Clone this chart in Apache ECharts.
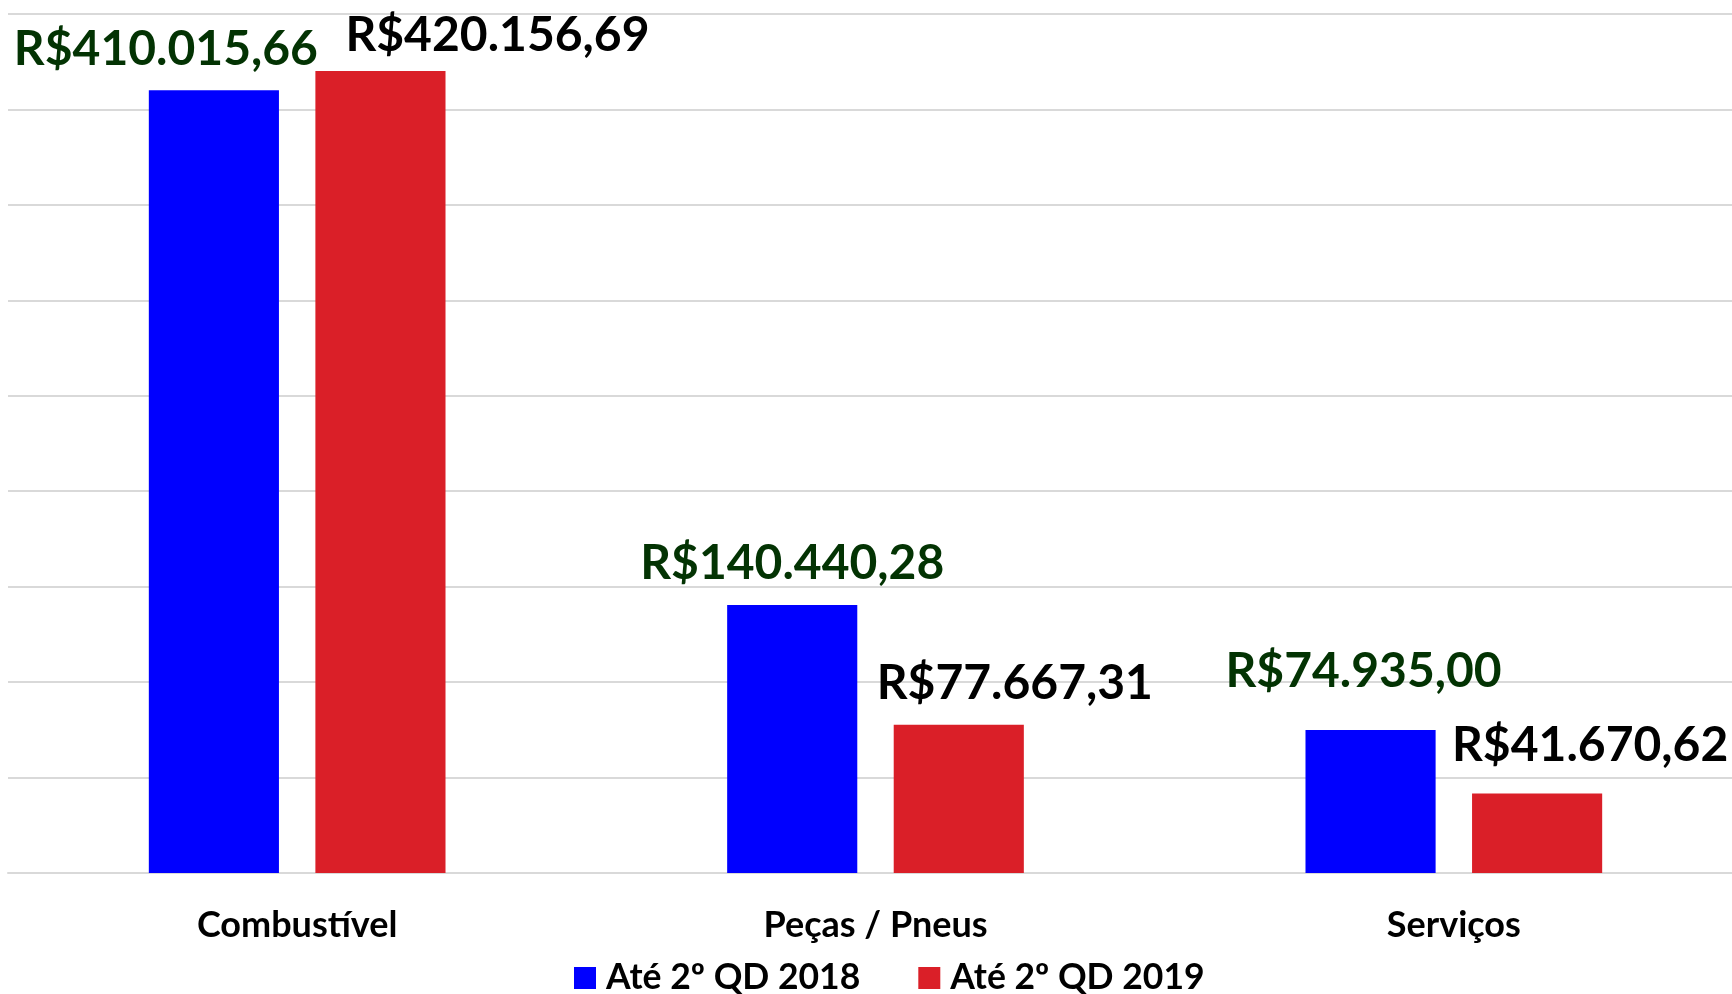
<!DOCTYPE html>
<html>
<head>
<meta charset="utf-8">
<script src="https://cdn.jsdelivr.net/npm/echarts@6/dist/echarts.min.js"></script>
<style>
html,body{margin:0;padding:0;background:#fff;overflow:hidden;width:1732px;height:994px;}
#chart{width:1743px;height:994px;}
</style>
</head>
<body>
<div id="chart"></div>
<script>
const categories = ['Combustível', 'Peças / Pneus', 'Serviços'];
const seriesNames = ['Até 2º QD 2018', 'Até 2º QD 2019'];
const values2018 = [410015.66, 140440.28, 74935.00];
const values2019 = [420156.69, 77667.31, 41670.62];

function brl(v) {
  const parts = v.toFixed(2).split('.');
  const intPart = parts[0].replace(/\B(?=(\d{3})+(?!\d))/g, '.');
  return 'R$' + intPart + ',' + parts[1];
}

const FONT = 'Lato';
// manual label placement (as in the original)
const off2018 = [[-48, -12], [0, -12], [-7, -29]];
const off2019 = [[117, -6], [56, -12], [53, -19]];

function mkData(vals, offs) {
  return vals.map((v, i) => ({ value: v, label: { offset: offs[i] } }));
}

const chart = echarts.init(document.getElementById('chart'));
chart.setOption({
  animation: false,
  backgroundColor: '#ffffff',
  grid: { left: 8, right: 0, top: 14, bottom: 121, containLabel: false },
  legend: {
    top: 960,
    left: 574,
    padding: 0,
    itemWidth: 22,
    itemHeight: 22,
    itemGap: 58,
    icon: 'rect',
    textStyle: { fontFamily: FONT, fontWeight: 'bold', fontSize: 35.5, color: '#000', padding: [0, 0, 0, 5] },
    data: seriesNames
  },
  xAxis: {
    type: 'category',
    data: categories,
    axisLine: { show: true, lineStyle: { color: '#D9D9D9', width: 2 } },
    axisTick: { show: false },
    axisLabel: { fontFamily: FONT, fontWeight: 'bold', fontSize: 36, color: '#000', margin: 34 }
  },
  yAxis: {
    type: 'value',
    min: 0,
    max: 450000,
    interval: 50000,
    axisLine: { show: false },
    axisTick: { show: false },
    axisLabel: { show: false },
    splitLine: { lineStyle: { color: '#D9D9D9', width: 2 } }
  },
  series: [
    {
      name: seriesNames[0],
      type: 'bar',
      data: mkData(values2018, off2018),
      barWidth: '22.5%',
      barGap: '28%',
      itemStyle: { color: '#0000FF' },
      label: {
        show: true, position: 'top', distance: 5,
        formatter: p => brl(p.value),
        fontFamily: FONT, fontWeight: 'bold', fontSize: 48, color: '#033303'
      }
    },
    {
      name: seriesNames[1],
      type: 'bar',
      data: mkData(values2019, off2019),
      barWidth: '22.5%',
      itemStyle: { color: '#DA1F28' },
      label: {
        show: true, position: 'top', distance: 5,
        formatter: p => brl(p.value),
        fontFamily: FONT, fontWeight: 'bold', fontSize: 48, color: '#000000'
      }
    }
  ]
});
</script>
</body>
</html>
